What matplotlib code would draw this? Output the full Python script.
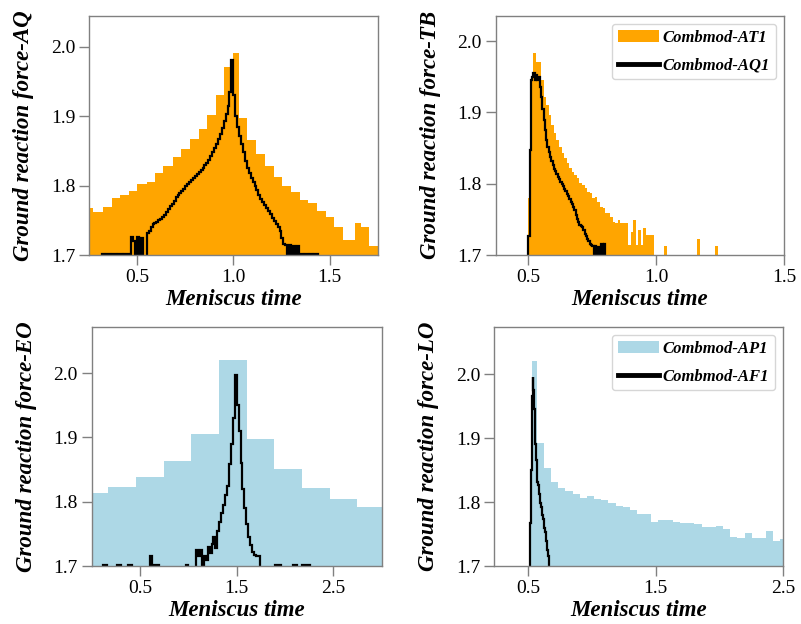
import numpy as np
import matplotlib
matplotlib.use("Agg")
import matplotlib.pyplot as plt
from matplotlib.patches import Patch
from matplotlib.lines import Line2D

plt.rcParams['font.family'] = ['Liberation Serif', 'DejaVu Serif']

# ---- panel AQ (top left) ----
aq_edges = [0.22, 0.271, 0.323, 0.368, 0.411, 0.458, 0.502, 0.549, 0.594, 0.637,
            0.684, 0.728, 0.774, 0.820, 0.861, 0.910, 0.953, 0.997, 1.031, 1.073,
            1.119, 1.166, 1.209, 1.253, 1.299, 1.345, 1.39, 1.435, 1.479, 1.523,
            1.568, 1.630, 1.665, 1.706, 1.753, 1.80]
aq_hist = [1.768, 1.7623, 1.7695, 1.7815, 1.7863, 1.7925, 1.8022, 1.8055, 1.8185, 1.828,
           1.8405, 1.852, 1.8665, 1.881, 1.901, 1.930, 1.970, 1.991, 1.8976, 1.8655,
           1.8453, 1.828, 1.8127, 1.7997, 1.791, 1.779, 1.7743, 1.7638, 1.7551, 1.7408,
           1.722, 1.746, 1.740, 1.713, 1.713]
aq_line_range = (0.31, 1.45)
aq_line = [1.69, 1.701, 1.69, 1.701, 1.701, 1.69, 1.701, 1.701, 1.69, 1.701,
           1.701, 1.69, 1.701, 1.701,
           1.701, 1.69, 1.726, 1.72, 1.69, 1.726, 1.70, 1.725, 1.69, 1.69,
           1.731, 1.735, 1.740, 1.745, 1.746, 1.748, 1.750, 1.752, 1.755, 1.758,
           1.762, 1.766, 1.770, 1.774, 1.778, 1.783, 1.786, 1.789, 1.792, 1.795,
           1.799, 1.802, 1.805, 1.808, 1.811, 1.814, 1.817, 1.819, 1.822, 1.825,
           1.829, 1.833, 1.837, 1.842, 1.848, 1.854, 1.860, 1.867, 1.874, 1.883,
           1.893, 1.903, 1.915, 1.935, 1.981, 1.93, 1.90, 1.885, 1.872, 1.86,
           1.848, 1.836, 1.826, 1.818, 1.811, 1.805, 1.799, 1.794, 1.787, 1.780,
           1.776, 1.772, 1.768, 1.763, 1.759, 1.754, 1.749, 1.745, 1.740, 1.734,
           1.725, 1.716, 1.714, 1.69, 1.714, 1.69, 1.713, 1.69, 1.713, 1.701,
           1.701, 1.69, 1.701, 1.701, 1.69, 1.701, 1.69, 1.701, 1.701, 1.69]

# ---- panel TB (top right) ----
tb_hist_range = (0.50, 1.24)
tb_hist = [1.78, 1.95, 1.983, 1.971, 1.971, 1.945, 1.922, 1.910, 1.896, 1.882,
           1.871, 1.861, 1.852, 1.843, 1.836, 1.829, 1.822, 1.817, 1.812, 1.8075,
           1.8015, 1.798, 1.7935, 1.789, 1.7865, 1.780, 1.782, 1.775, 1.768, 1.7655,
           1.7585, 1.7585, 1.754, 1.7467, 1.7444, 1.749, 1.7444, 1.7453, 1.7453, 1.714,
           1.7327, 1.749, 1.714, 1.735, 1.714, 1.7374, 1.728, 1.728, 1.728,
           0, 0, 0, 0, 1.713, 0, 0, 0, 0, 0, 0, 0, 0, 0, 0, 0, 0,
           1.722, 0, 0, 0, 0, 0, 0, 1.712]
tb_line_range = (0.495, 0.805)
tb_line = [1.69, 1.726, 1.847, 1.945, 1.950, 1.955, 1.945, 1.952, 1.946, 1.950,
           1.935, 1.922, 1.905, 1.890, 1.875, 1.862, 1.852, 1.844, 1.838, 1.832,
           1.826, 1.821, 1.818, 1.814, 1.810, 1.807, 1.803, 1.800, 1.797, 1.793,
           1.790, 1.786, 1.783, 1.779, 1.775, 1.772, 1.768, 1.763, 1.756, 1.750,
           1.746, 1.742, 1.741, 1.740, 1.735, 1.730, 1.727, 1.723, 1.720, 1.716,
           1.714, 1.712, 1.69, 1.712, 1.69, 1.711, 1.69, 1.69, 1.716, 1.69,
           1.716, 1.69]

# ---- panel EO (bottom left) ----
eo_edges = [-0.113, 0.173, 0.459, 0.745, 1.031, 1.317, 1.603, 1.889, 2.175, 2.461, 2.747, 3.033]
eo_hist = [1.8132, 1.8236, 1.838, 1.864, 1.9056, 2.0198, 1.8973, 1.8506, 1.821, 1.8039, 1.7914]
eo_line_range = (0.10, 2.28)
eo_line = [1.69, 1.701, 1.701, 1.69, 1.69, 1.69, 1.69, 1.69, 1.701, 1.701,
           1.69, 1.69, 1.69, 1.69, 1.701, 1.701, 1.69, 1.69, 1.69, 1.69,
           1.69, 1.69,
           1.69, 1.69, 1.69, 1.716, 1.69, 1.701, 1.701, 1.701, 1.69, 1.69,
           1.69, 1.69, 1.69, 1.69, 1.69, 1.69, 1.69, 1.69, 1.69, 1.69,
           1.69, 1.69, 1.701, 1.69, 1.69, 1.69, 1.69, 1.725, 1.715, 1.725,
           1.69, 1.715, 1.71, 1.73, 1.72, 1.735, 1.745, 1.728, 1.755, 1.768,
           1.782, 1.795, 1.81, 1.825, 1.858, 1.89, 1.93, 1.997, 1.95, 1.91,
           1.86, 1.82, 1.79, 1.765, 1.745, 1.732, 1.722, 1.717, 1.716, 1.716,
           1.69,
           1.69, 1.69, 1.69, 1.69, 1.69, 1.69, 1.69, 1.701, 1.701, 1.701,
           1.69, 1.69, 1.69, 1.69, 1.69, 1.69, 1.701, 1.701, 1.69, 1.69,
           1.69, 1.701, 1.701, 1.701, 1.701, 1.69]

# ---- panel LO (bottom right) ----
lo_edges = [0.513, 0.522, 0.532, 0.566, 0.622, 0.678, 0.735, 0.791, 0.847, 0.903,
            0.959, 1.016, 1.072, 1.128, 1.184, 1.240, 1.297, 1.353, 1.409, 1.465,
            1.521, 1.578, 1.634, 1.690, 1.746, 1.802, 1.859, 1.915, 1.971, 2.027,
            2.083, 2.140, 2.196, 2.252, 2.308, 2.364, 2.421, 2.477, 2.533]
lo_hist = [1.767, 1.9125, 2.020, 1.892, 1.853, 1.831, 1.822, 1.817, 1.8125, 1.8057,
           1.809, 1.8042, 1.8031, 1.798, 1.7943, 1.7917, 1.7875, 1.7813, 1.7813, 1.7693,
           1.7719, 1.7719, 1.7693, 1.7667, 1.7667, 1.7651, 1.7615, 1.7615, 1.763, 1.7578,
           1.7458, 1.7443, 1.752, 1.7443, 1.7443, 1.7547, 1.7396, 1.742]
lo_line_range = (0.505, 0.665)
lo_line = [1.69, 1.69, 1.767, 1.85, 1.91, 1.965, 1.996, 1.975, 1.945, 1.915,
           1.89, 1.865, 1.845, 1.832, 1.826, 1.819, 1.812, 1.806, 1.799, 1.793,
           1.786, 1.780, 1.773, 1.767, 1.760, 1.753, 1.746, 1.739, 1.732, 1.725,
           1.716, 1.69]

panels = [
    dict(pos=[0.1111, 0.5913, 0.3604, 0.3835], hist_edges=aq_edges, hist=aq_hist,
         line_range=aq_line_range, line=aq_line, color='orange',
         xlim=(0.25, 1.75), ylim=(1.7, 2.0445), xticks=[0.5, 1.0, 1.5],
         ylabel='Ground reaction force-AQ', legend=None),
    dict(pos=[0.6189, 0.5913, 0.3603, 0.3835],
         hist_edges=np.linspace(*tb_hist_range, len(tb_hist) + 1), hist=tb_hist,
         line_range=tb_line_range, line=tb_line, color='orange',
         xlim=(0.373, 1.5), ylim=(1.7, 2.0356), xticks=[0.5, 1.0, 1.5],
         ylabel='Ground reaction force-TB', legend=('Combmod-AT1', 'Combmod-AQ1')),
    dict(pos=[0.1145, 0.0929, 0.3620, 0.3830], hist_edges=eo_edges, hist=eo_hist,
         line_range=eo_line_range, line=eo_line, color='lightblue',
         xlim=(0.0, 3.0), ylim=(1.7, 2.0718), xticks=[0.5, 1.5, 2.5],
         ylabel='Ground reaction force-EO', legend=None),
    dict(pos=[0.6171, 0.0929, 0.3608, 0.3835], hist_edges=lo_edges, hist=lo_hist,
         line_range=lo_line_range, line=lo_line, color='lightblue',
         xlim=(0.233, 2.5), ylim=(1.7, 2.074), xticks=[0.5, 1.5, 2.5],
         ylabel='Ground reaction force-LO', legend=('Combmod-AP1', 'Combmod-AF1')),
]

label_font = dict(fontsize=16.5, fontweight='bold', fontstyle='italic')

fig = plt.figure(figsize=(8.01, 6.24), dpi=100)
for p in panels:
    ax = fig.add_axes(p['pos'])
    ax.stairs(p['hist'], p['hist_edges'], baseline=0, fill=True,
              color=p['color'], lw=0)
    line_edges = np.linspace(*p['line_range'], len(p['line']) + 1)
    ax.stairs(p['line'], line_edges, baseline=0, color='black', lw=1.6)
    ax.set_xlim(*p['xlim'])
    ax.set_ylim(*p['ylim'])
    ax.set_xticks(p['xticks'])
    ax.set_yticks([1.7, 1.8, 1.9, 2.0])
    ax.tick_params(direction='out', length=7, width=1, color='#808080',
                   labelsize=14, pad=3)
    for s in ax.spines.values():
        s.set_color('#808080')
        s.set_linewidth(1.0)
    ax.set_xlabel('Meniscus time', labelpad=2, **label_font)
    ax.set_ylabel(p['ylabel'], labelpad=12, **label_font)
    if p['legend']:
        handles = [Patch(facecolor=p['color'], edgecolor='none'),
                   Line2D([], [], color='black', lw=3.5)]
        ax.legend(handles, p['legend'], loc='upper right', handlelength=2.5,
                  handletextpad=0.2, borderpad=0.35, labelspacing=0.7,
                  prop=dict(family='Liberation Serif', size=12,
                            weight='bold', style='italic'))

fig.savefig('out.png', dpi=100)
